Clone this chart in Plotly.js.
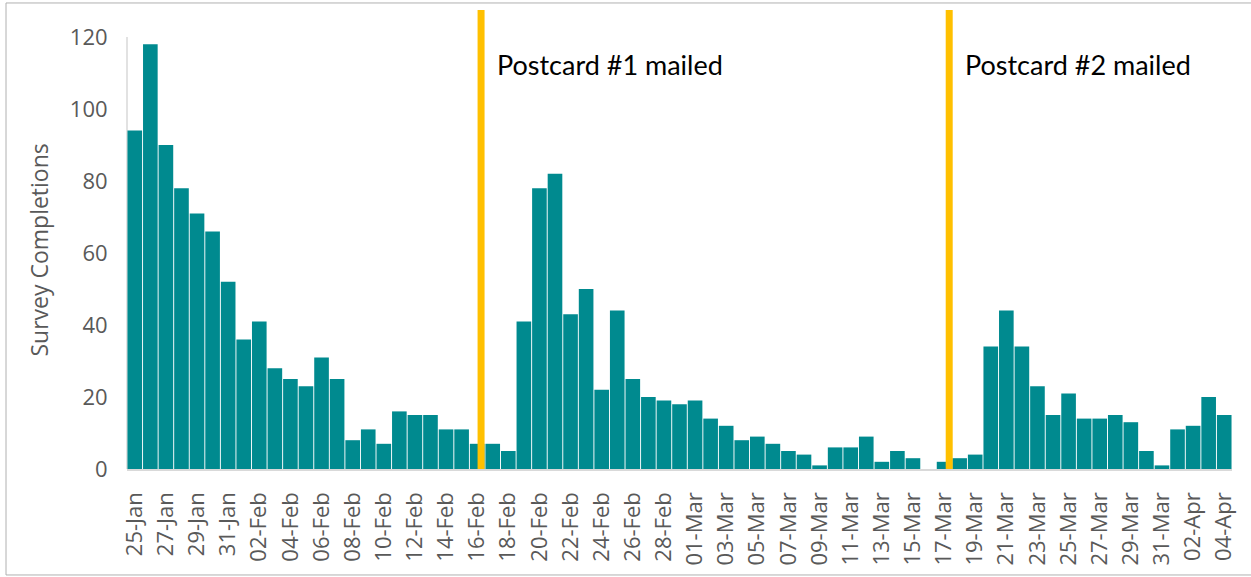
<!DOCTYPE html>
<html>
<head>
<meta charset="utf-8">
<script src="https://cdn.plot.ly/plotly-3.0.1.min.js"></script>
<style>
  html, body { margin: 0; padding: 0; background: #ffffff; }
  #chart { width: 1251px; height: 577px; }
</style>
</head>
<body>
<div id="chart"></div>
<script>
// ---- data ----
const dates = [
  '25-Jan','26-Jan','27-Jan','28-Jan','29-Jan','30-Jan','31-Jan',
  '01-Feb','02-Feb','03-Feb','04-Feb','05-Feb','06-Feb','07-Feb','08-Feb','09-Feb','10-Feb',
  '11-Feb','12-Feb','13-Feb','14-Feb','15-Feb','16-Feb','17-Feb','18-Feb','19-Feb','20-Feb',
  '21-Feb','22-Feb','23-Feb','24-Feb','25-Feb','26-Feb','27-Feb','28-Feb','29-Feb',
  '01-Mar','02-Mar','03-Mar','04-Mar','05-Mar','06-Mar','07-Mar','08-Mar','09-Mar','10-Mar',
  '11-Mar','12-Mar','13-Mar','14-Mar','15-Mar','16-Mar','17-Mar','18-Mar','19-Mar','20-Mar',
  '21-Mar','22-Mar','23-Mar','24-Mar','25-Mar','26-Mar','27-Mar','28-Mar','29-Mar','30-Mar','31-Mar',
  '01-Apr','02-Apr','03-Apr','04-Apr'
];
const completionsJan = [94, 118, 90, 78, 71, 66, 52];
const completionsFeb = [36, 41, 28, 25, 23, 31, 25, 8, 11, 7, 16, 15, 15, 11, 11, 7, 7, 5, 41, 78,
                        82, 43, 50, 22, 44, 25, 20, 19, 18];
const completionsMar = [19, 14, 12, 8, 9, 7, 5, 4, 1, 6, 6, 9, 2, 5, 3, 0, 2, 3, 4, 34,
                        44, 34, 23, 15, 21, 14, 14, 15, 13, 5, 1];
const completionsApr = [11, 12, 20, 15];
const yTicks = [0, 20, 40, 60, 80, 100, 120];
const mailings = [
  { date: '16-Feb', label: 'Postcard #1 mailed', offset: 0.25 },
  { date: '17-Mar', label: 'Postcard #2 mailed', offset: 0.33 }
];

// ---- build ----
const completions = completionsJan.concat(completionsFeb, completionsMar, completionsApr);
const idx = dates.map((d, i) => i);
const tickIdx = idx.filter(i => i % 2 === 0);
const tickText = tickIdx.map(i => dates[i]);

const trace = {
  type: 'bar',
  x: idx,
  y: completions,
  customdata: dates,
  textposition: 'none',
  hovertemplate: '%{customdata}: %{y}<extra></extra>',
  marker: { color: '#008A8F', line: { width: 0 } }
};

const shapes = [];
const annotations = [];
mailings.forEach(m => {
  const xi = dates.indexOf(m.date) + m.offset;
  shapes.push({
    type: 'line', xref: 'x', yref: 'paper',
    x0: xi, x1: xi, y0: 0, y1: 1,
    line: { color: '#FFC000', width: 7 }
  });
  annotations.push({
    xref: 'x', yref: 'paper', x: xi, y: 0.882,
    xanchor: 'left', yanchor: 'middle', xshift: 14,
    text: m.label, showarrow: false,
    font: { family: 'Lato, "Liberation Sans", sans-serif', size: 27, color: '#000000' }
  });
});
// y axis line from 0 to 120 only
shapes.push({
  type: 'line', xref: 'paper', yref: 'y',
  x0: 0, x1: 0, y0: 0, y1: 120,
  line: { color: '#d9d9d9', width: 1.5 }, layer: 'below'
});
// outer frame
shapes.push({
  type: 'rect', xref: 'paper', yref: 'paper',
  x0: -0.1095, x1: 1.02, y0: -0.2309, y1: 1.0153,
  line: { color: '#b0b0b0', width: 1 }, fillcolor: 'rgba(0,0,0,0)'
});
// y title
annotations.push({
  xref: 'paper', yref: 'paper', x: -0.0805, y: 0.476,
  xanchor: 'center', yanchor: 'middle', textangle: -90,
  text: 'Survey Completions', showarrow: false,
  font: { family: '"Open Sans", sans-serif', size: 23, color: '#595959' }
});

const layout = {
  width: 1251, height: 577,
  margin: { l: 127, r: 19, t: 10, b: 108 },
  paper_bgcolor: '#ffffff', plot_bgcolor: '#ffffff',
  showlegend: false,
  bargap: 0.06,
  xaxis: {
    type: 'linear',
    range: [-0.5, dates.length - 0.5],
    tickmode: 'array', tickvals: tickIdx, ticktext: tickText,
    tickangle: -90,
    tickfont: { family: '"Open Sans", sans-serif', size: 22, color: '#595959' },
    ticks: 'outside', ticklen: 13, tickcolor: 'rgba(0,0,0,0)',
    showline: true, linecolor: '#d9d9d9', linewidth: 1.5,
    showgrid: false, zeroline: false, fixedrange: true
  },
  yaxis: {
    range: [0, 127.5],
    tickmode: 'array', tickvals: yTicks,
    tickfont: { family: '"Open Sans", sans-serif', size: 22, color: '#595959' },
    ticks: 'outside', ticklen: 14, tickcolor: 'rgba(0,0,0,0)',
    showline: false, showgrid: false, zeroline: false, fixedrange: true
  },
  shapes: shapes,
  annotations: annotations
};

Plotly.newPlot('chart', [trace], layout, { displayModeBar: false, staticPlot: true });
</script>
</body>
</html>
